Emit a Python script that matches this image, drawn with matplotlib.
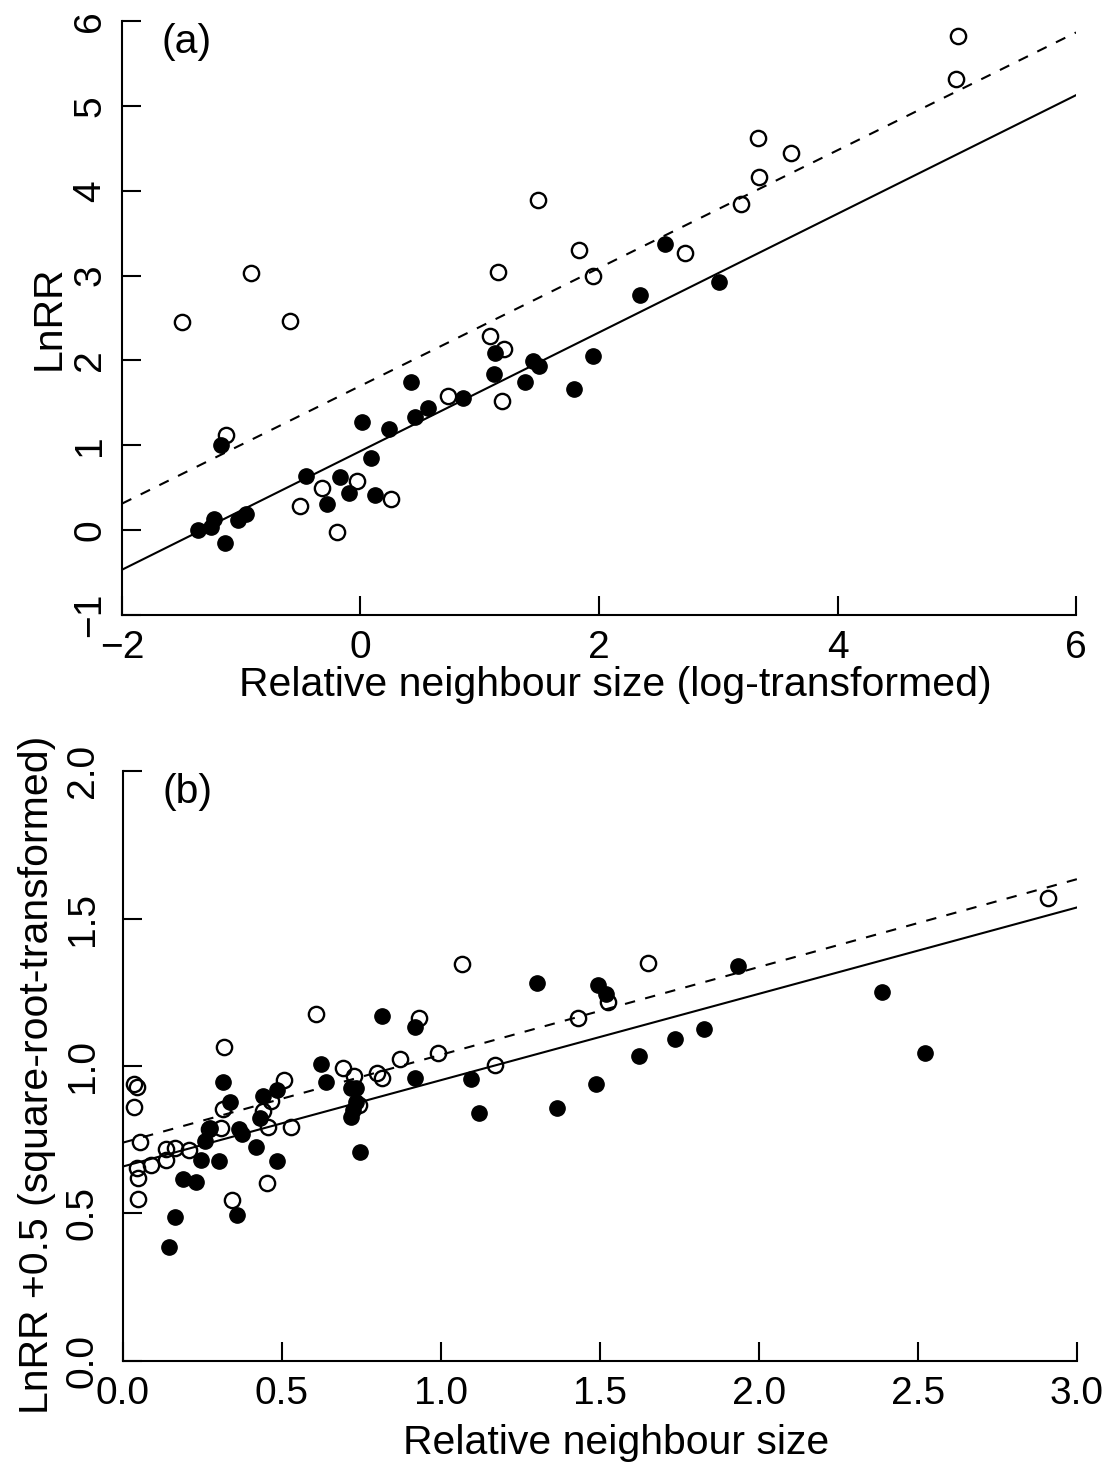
import matplotlib
matplotlib.use("Agg")
import matplotlib.pyplot as plt
import numpy as np

plt.rcParams["font.family"] = ["Liberation Sans", "DejaVu Sans"]

# -----------------------------------------------------------------------------
# Panel (a): log-transformed relative neighbour size vs LnRR
# -----------------------------------------------------------------------------
a_filled_x = [-1.36, -1.25, -1.23, -1.14, -1.17, -1.03, -0.96, -0.46, -0.28,
              -0.17, -0.10, 0.01, 0.09, 0.12, 0.24, 0.42, 0.46, 0.57, 0.86,
              1.13, 1.12, 1.38, 1.45, 1.50, 1.95, 1.79, 2.34, 2.55, 3.01]
a_filled_y = [0.00, 0.04, 0.13, -0.15, 1.00, 0.12, 0.19, 0.64, 0.30,
              0.62, 0.44, 1.27, 0.85, 0.41, 1.19, 1.75, 1.33, 1.44, 1.56,
              2.09, 1.84, 1.74, 1.99, 1.93, 2.05, 1.66, 2.77, 3.37, 2.92]

a_open_x = [-1.50, -0.92, -0.59, -1.13, -0.51, -0.32, -0.20, -0.03, 0.26,
            0.73, 1.09, 1.20, 1.19, 1.15, 1.49, 1.83, 1.95, 2.72, 3.19,
            3.34, 3.33, 3.61, 4.99, 5.01]
a_open_y = [2.45, 3.03, 2.47, 1.12, 0.28, 0.49, -0.03, 0.58, 0.37,
            1.58, 2.29, 2.14, 1.52, 3.04, 3.89, 3.30, 3.00, 3.27, 3.84,
            4.16, 4.62, 4.45, 5.32, 5.83]

# fitted lines: (intercept, slope)
a_fit_filled = (0.93, 0.70)
a_fit_open = (1.70, 0.695)
a_xlim = (-2, 6)
a_ylim = (-1, 6)
a_xticks = [-2, 0, 2, 4, 6]
a_yticks = [-1, 0, 1, 2, 3, 4, 5, 6]

# -----------------------------------------------------------------------------
# Panel (b): relative neighbour size vs sqrt(LnRR + 0.5)
# -----------------------------------------------------------------------------
b_filled_x = [0.259, 0.275, 0.246, 0.301, 0.314, 0.337, 0.364, 0.375, 0.419,
              0.432, 0.440, 0.485, 0.485, 0.623, 0.637, 0.718, 0.733, 0.733,
              0.723, 0.718, 0.744, 0.814, 0.917, 0.917, 1.095, 1.121, 1.302,
              1.495, 1.518, 1.935, 2.388, 2.522, 1.826, 1.736, 1.623, 1.487,
              1.366, 0.190, 0.230, 0.164, 0.144, 0.358]
b_filled_y = [0.746, 0.789, 0.681, 0.678, 0.947, 0.879, 0.785, 0.768, 0.724,
              0.825, 0.899, 0.919, 0.678, 1.006, 0.947, 0.924, 0.924, 0.879,
              0.851, 0.826, 0.709, 1.170, 1.131, 0.960, 0.955, 0.842, 1.283,
              1.275, 1.243, 1.340, 1.252, 1.045, 1.125, 1.091, 1.034, 0.939,
              0.856, 0.615, 0.607, 0.489, 0.385, 0.494]

b_open_x = [0.036, 0.045, 0.036, 0.052, 0.045, 0.047, 0.047, 0.087, 0.136,
            0.162, 0.136, 0.209, 0.319, 0.607, 0.270, 0.309, 0.314, 0.440,
            0.466, 0.455, 0.506, 0.529, 0.453, 0.342, 0.691, 0.726, 0.742,
            0.799, 0.814, 0.870, 0.930, 0.990, 1.067, 1.170, 1.651, 1.525,
            1.432, 2.910]
b_open_y = [0.938, 0.928, 0.862, 0.742, 0.653, 0.621, 0.549, 0.664, 0.717,
            0.723, 0.682, 0.715, 1.063, 1.178, 0.785, 0.789, 0.855, 0.847,
            0.881, 0.794, 0.952, 0.794, 0.602, 0.545, 0.994, 0.967, 0.868,
            0.977, 0.958, 1.024, 1.162, 1.045, 1.346, 1.003, 1.348, 1.218,
            1.164, 1.571]

b_fit_filled = (0.659, 0.293)
b_fit_open = (0.740, 0.298)
b_xlim = (0, 3)
b_ylim = (0, 2)
b_xticks = [0.0, 0.5, 1.0, 1.5, 2.0, 2.5, 3.0]
b_yticks = [0.0, 0.5, 1.0, 1.5, 2.0]

TICK_FS = 28
LABEL_FS = 29.5


def draw_panel(ax, fx, fy, ox, oy, fit_f, fit_o, xlim, ylim, xticks, yticks,
               fmt, tag, xlabel, ylabel, ypad, xlabpad, ylabpad, ylab_y):
    """Draws one scatter panel with its two regression lines."""
    xs = np.array(xlim, dtype=float)
    ax.plot(xs, fit_f[0] + fit_f[1] * xs, color="black", lw=1.5)
    ax.plot(xs, fit_o[0] + fit_o[1] * xs, color="black", lw=1.5,
            linestyle=(0, (5, 5)))
    ax.plot(fx, fy, "o", color="black", markersize=11, clip_on=False)
    ax.plot(ox, oy, "o", markerfacecolor="none", markeredgecolor="black",
            markeredgewidth=1.7, markersize=11, clip_on=False)

    ax.set_xlim(xlim)
    ax.set_ylim(ylim)
    ax.set_xticks(xticks)
    ax.set_yticks(yticks)
    ax.set_xticklabels([fmt(v) for v in xticks])
    ax.set_yticklabels([fmt(v) for v in yticks], rotation=90, va="center")
    for side in ("top", "right"):
        ax.spines[side].set_visible(False)
    for side in ("left", "bottom"):
        ax.spines[side].set_linewidth(1.5)
    ax.tick_params(direction="in", length=14, width=1.5, labelsize=TICK_FS)
    ax.tick_params(axis="x", pad=11)
    ax.tick_params(axis="y", pad=ypad)
    ax.set_xlabel(xlabel, fontsize=LABEL_FS, labelpad=xlabpad)
    ax.set_ylabel(ylabel, fontsize=LABEL_FS, labelpad=ylabpad)
    # labels sit slightly off the axis-line centre in the original
    ax.xaxis.label.set_x(0.517)
    ax.yaxis.label.set_y(ylab_y)
    ax.text(0.068, 0.965, tag, transform=ax.transAxes, fontsize=LABEL_FS,
            ha="center", va="center")


def minus(v):
    return f"{v:g}".replace("-", "\u2212")


fig = plt.figure(figsize=(11.14, 14.68), dpi=100)
ax_a = fig.add_axes([0.1095, 0.5813, 0.8564, 0.4041])
ax_b = fig.add_axes([0.1104, 0.0731, 0.8564, 0.4015])

draw_panel(ax_a, a_filled_x, a_filled_y, a_open_x, a_open_y,
           a_fit_filled, a_fit_open, a_xlim, a_ylim, a_xticks, a_yticks,
           minus, "(a)", "Relative neighbour size (log-transformed)", "LnRR",
           10, 0, 3, 0.5)
draw_panel(ax_b, b_filled_x, b_filled_y, b_open_x, b_open_y,
           b_fit_filled, b_fit_open, b_xlim, b_ylim, b_xticks, b_yticks,
           lambda v: f"{v:.1f}", "(b)", "Relative neighbour size",
           "LnRR +0.5 (square-root-transformed)", 16, 9, 6, 0.485)

fig.savefig("out.png", dpi=100)
